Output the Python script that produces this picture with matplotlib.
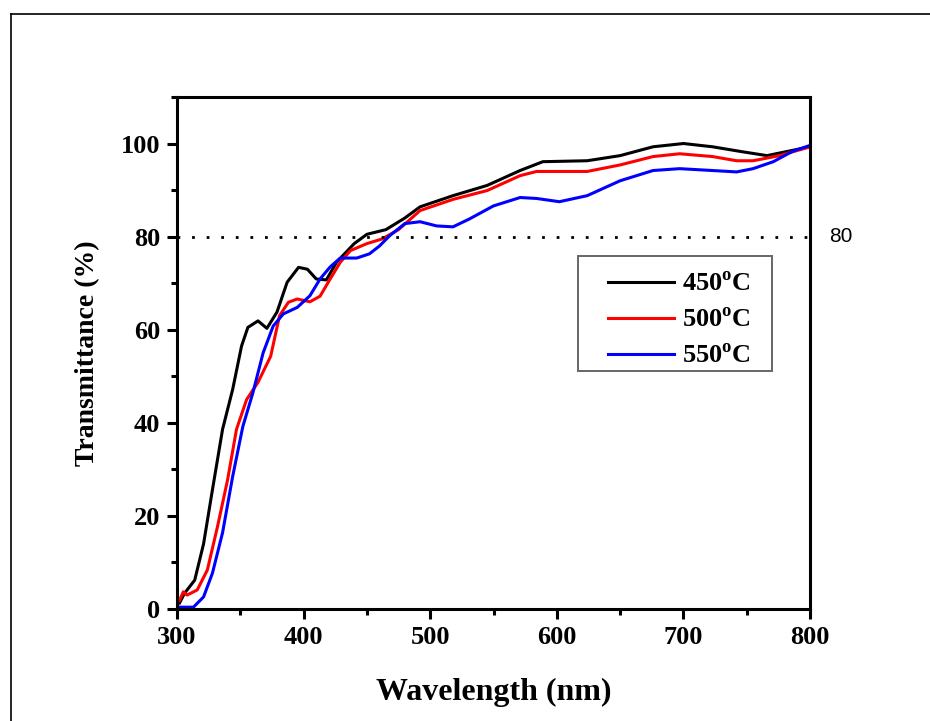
import matplotlib.pyplot as plt
from matplotlib.ticker import MultipleLocator
from matplotlib.lines import Line2D
from matplotlib.patches import Rectangle

plt.rcParams['font.family'] = 'Liberation Serif'
plt.rcParams['font.weight'] = 'bold'
plt.rcParams['mathtext.fontset'] = 'custom'
plt.rcParams['mathtext.rm'] = 'Liberation Serif:bold'
plt.rcParams['mathtext.bf'] = 'Liberation Serif:bold'

# values (wavelength in nm, transmittance in %)
wl_450 = [302, 306, 314, 321, 328, 336, 344, 351, 356, 364, 371, 379, 387, 396, 403,
          410, 418, 426, 440, 450, 465, 480, 492, 518, 545, 571, 589, 624, 650, 676,
          700, 723, 745, 766, 782, 800]
t_450 = [1.3, 3.4, 6.2, 14.0, 25.6, 38.6, 47.2, 56.5, 60.5, 61.9, 60.3, 63.8, 70.2, 73.4, 73.0,
         70.9, 70.7, 74.5, 78.5, 80.5, 81.5, 84.0, 86.4, 88.8, 91.0, 94.2, 96.1, 96.3, 97.4, 99.3,
         100.0, 99.3, 98.3, 97.4, 98.3, 99.3]

wl_500 = [302, 305, 308, 316, 324, 332, 340, 347, 355, 364, 374, 381, 388, 395, 405,
          413, 421, 429, 437, 450, 462, 475, 492, 518, 545, 571, 584, 624, 650, 676,
          697, 723, 742, 755, 776, 800]
t_500 = [1.9, 3.7, 3.0, 4.1, 8.4, 17.7, 27.8, 38.6, 45.0, 48.7, 54.3, 63.0, 65.9, 66.6, 66.0,
         67.2, 70.9, 74.5, 77.0, 78.5, 79.5, 81.5, 85.6, 88.0, 89.9, 93.1, 94.0, 94.0, 95.4, 97.2,
         97.8, 97.2, 96.3, 96.3, 97.4, 99.3]

wl_550 = [302, 313, 321, 328, 336, 344, 352, 360, 368, 376, 384, 395, 405, 413, 421,
          429, 442, 452, 460, 468, 480, 492, 505, 518, 531, 550, 571, 584, 602, 624,
          650, 676, 697, 723, 742, 755, 771, 786, 800]
t_550 = [0.4, 0.4, 2.6, 7.7, 16.4, 28.5, 39.2, 46.5, 55.0, 60.8, 63.4, 64.8, 67.3, 70.9, 73.5,
         75.4, 75.4, 76.3, 78.0, 80.2, 82.8, 83.2, 82.3, 82.1, 83.8, 86.6, 88.4, 88.2, 87.5, 88.8,
         92.0, 94.2, 94.6, 94.2, 93.9, 94.6, 96.1, 98.3, 99.6]

labels = ['450$^{\\mathregular{o}}$C', '500$^{\\mathregular{o}}$C', '550$^{\\mathregular{o}}$C']
colors = ['black', 'red', 'blue']
ref_level = 80

fig = plt.figure(figsize=(9.3, 7.21), dpi=100)
ax = fig.add_axes([0.1903, 0.1553, 0.6807, 0.7102])

for wl, t, lab, c in zip([wl_450, wl_500, wl_550], [t_450, t_500, t_550], labels, colors):
    ax.plot(wl, t, color=c, lw=2.2, label=lab)

ax.plot([300, 800], [ref_level, ref_level], color='black', lw=2, ls=(0, (1, 4.25)))
ax.text(1.03, ref_level, str(ref_level), transform=ax.get_yaxis_transform(),
        fontsize=15, fontweight='normal', family='Liberation Sans', va='center', ha='left')

ax.set_xlim(300, 800)
ax.set_ylim(0, 110)
ax.xaxis.set_major_locator(MultipleLocator(100))
ax.xaxis.set_minor_locator(MultipleLocator(50))
ax.yaxis.set_major_locator(MultipleLocator(20))
ax.yaxis.set_minor_locator(MultipleLocator(10))
ax.tick_params(which='major', direction='out', length=7, width=2.2, labelsize=19, pad=5)
ax.tick_params(which='minor', direction='out', length=4.5, width=2.2)
for s in ax.spines.values():
    s.set_linewidth(2.2)

ax.set_xlabel('Wavelength (nm)', fontsize=23, fontweight='bold', labelpad=21)
ax.set_ylabel('Transmittance (%)', fontsize=20, fontweight='bold', labelpad=15)

# legend entries without frame, box drawn separately to get the wide margins
leg = ax.legend(loc='center left', bbox_to_anchor=(0.681, 0.564), borderaxespad=0,
                fontsize=19, frameon=False, handlelength=2.5,
                handletextpad=0.3, labelspacing=0.46, borderpad=0)
ax.add_patch(Rectangle((0.634, 0.465), 0.306, 0.224, transform=ax.transAxes,
                       fill=False, ec='#666666', lw=1.4, zorder=5))

# outer frame of the original picture
fig.add_artist(Line2D([11 / 930, 11 / 930], [0, 1 - 14 / 721], transform=fig.transFigure,
                      color='black', lw=1.2))
fig.add_artist(Line2D([11 / 930, 1], [1 - 14 / 721, 1 - 14 / 721], transform=fig.transFigure,
                      color='black', lw=1.2))

plt.savefig('out.png', dpi=100)
